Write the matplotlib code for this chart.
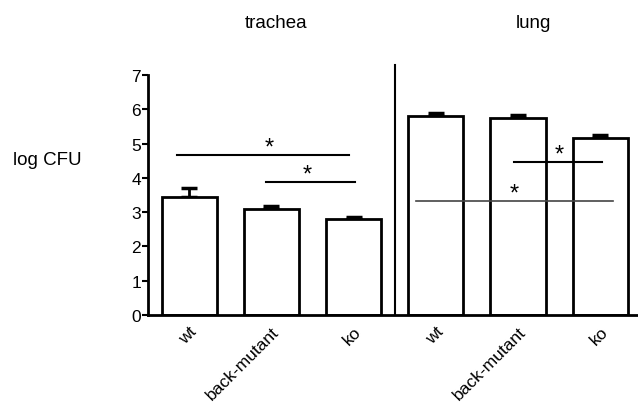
import matplotlib
matplotlib.use("Agg")
import matplotlib.pyplot as plt

plt.rcParams['font.family'] = ['Liberation Sans', 'DejaVu Sans']

# data
groups = ['wt', 'back-mutant', 'ko', 'wt', 'back-mutant', 'ko']
means = [3.43, 3.08, 2.79, 5.81, 5.76, 5.15]
sems = [0.26, 0.10, 0.07, 0.08, 0.08, 0.09]
tissues = ['trachea', 'lung']

# significance bars: (x_start, x_end, y, star_x)
sig_lines = [(-0.15, 1.95, 4.67, 0.98), (0.93, 2.02, 3.88, 1.44),
             (3.95, 5.02, 4.47, 4.5), (2.76, 5.15, 3.32, 3.95)]

fig = plt.figure(figsize=(6.38, 4.06), dpi=100)
ax = fig.add_axes([148 / 638, 90 / 406, 1 - 148 / 638, 240 / 406])

x = list(range(len(groups)))
ax.bar(x, means, width=0.67, color='white', edgecolor='black', linewidth=2, zorder=2)
ax.errorbar(x, means, yerr=[[0] * len(sems), sems], fmt='none', ecolor='black',
            elinewidth=2, capsize=6, capthick=2.5, zorder=1)

for i, (x0, x1, y, sx) in enumerate(sig_lines):
    col = '#444444' if i == 3 else 'black'
    lw = 1.2 if i == 3 else 1.5
    ax.plot([x0, x1], [y, y], color=col, lw=lw, zorder=3)
    ax.text(sx, y - 0.1, '*', ha='center', va='bottom', fontsize=17, zorder=3)

# divider between tissues
ax.plot([2.5, 2.5], [0, 7.3], color='black', lw=1.5, clip_on=False, zorder=3)

ax.set_xlim(-0.5, 5.46)
ax.set_ylim(0, 7)
ax.set_yticks(range(8))
ax.tick_params(axis='y', length=4, width=1.5, labelsize=12.5, pad=1)
ax.set_xticks(x)
ax.set_xticklabels(groups, rotation=45, ha='right', rotation_mode='anchor', fontsize=12.5)
ax.tick_params(axis='x', length=0, pad=6)
for s in ['top', 'right']:
    ax.spines[s].set_visible(False)
for s in ['left', 'bottom']:
    ax.spines[s].set_linewidth(2)

fig.text(13 / 638, 1 - 165 / 406, 'log CFU', ha='left', va='baseline', fontsize=13.5)
fig.text(276.5 / 638, 1 - 28 / 406, tissues[0], ha='center', va='baseline', fontsize=13.5)
fig.text(533.5 / 638, 1 - 28 / 406, tissues[1], ha='center', va='baseline', fontsize=13.5)

fig.savefig('out.png', dpi=100)
